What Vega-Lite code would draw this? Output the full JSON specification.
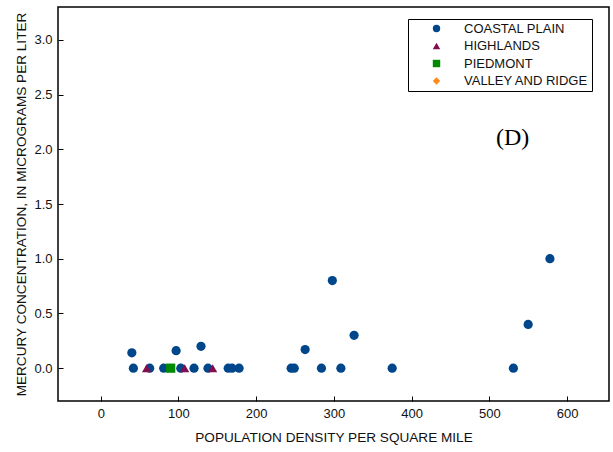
{
  "$schema": "https://vega.github.io/schema/vega-lite/v6.json",
  "width": 551,
  "height": 394,
  "autosize": {"type": "none"},
  "padding": {"left": 58, "top": 7, "right": 4, "bottom": 51},
  "background": "white",
  "config": {
    "view": {"stroke": "black", "strokeWidth": 1.5},
    "font": "Liberation Sans",
    "axis": {
      "domain": false,
      "grid": false,
      "tickColor": "black",
      "tickSize": 5,
      "offset": -5,
      "labelFont": "Liberation Sans",
      "labelFontSize": 13,
      "labelColor": "#111111",
      "titleFont": "Liberation Sans",
      "titleFontSize": 13.6,
      "titleFontWeight": "normal",
      "titleColor": "#111111"
    }
  },
  "datasets": {
    "pts": [
      {"region": "COASTAL PLAIN", "density": 40, "mercury": 0.14},
      {"region": "COASTAL PLAIN", "density": 42, "mercury": 0},
      {"region": "COASTAL PLAIN", "density": 63, "mercury": 0},
      {"region": "COASTAL PLAIN", "density": 81, "mercury": 0},
      {"region": "COASTAL PLAIN", "density": 97, "mercury": 0.16},
      {"region": "COASTAL PLAIN", "density": 103, "mercury": 0},
      {"region": "COASTAL PLAIN", "density": 120, "mercury": 0},
      {"region": "COASTAL PLAIN", "density": 129, "mercury": 0.2},
      {"region": "COASTAL PLAIN", "density": 138, "mercury": 0},
      {"region": "COASTAL PLAIN", "density": 164, "mercury": 0},
      {"region": "COASTAL PLAIN", "density": 169, "mercury": 0},
      {"region": "COASTAL PLAIN", "density": 178, "mercury": 0},
      {"region": "COASTAL PLAIN", "density": 245, "mercury": 0},
      {"region": "COASTAL PLAIN", "density": 249, "mercury": 0},
      {"region": "COASTAL PLAIN", "density": 263, "mercury": 0.17},
      {"region": "COASTAL PLAIN", "density": 284, "mercury": 0},
      {"region": "COASTAL PLAIN", "density": 298, "mercury": 0.8},
      {"region": "COASTAL PLAIN", "density": 309, "mercury": 0},
      {"region": "COASTAL PLAIN", "density": 326, "mercury": 0.3},
      {"region": "COASTAL PLAIN", "density": 375, "mercury": 0},
      {"region": "COASTAL PLAIN", "density": 531, "mercury": 0},
      {"region": "COASTAL PLAIN", "density": 550, "mercury": 0.4},
      {"region": "COASTAL PLAIN", "density": 578, "mercury": 1.0},
      {"region": "HIGHLANDS", "density": 59, "mercury": 0},
      {"region": "HIGHLANDS", "density": 108, "mercury": 0},
      {"region": "HIGHLANDS", "density": 144, "mercury": 0},
      {"region": "PIEDMONT", "density": 90, "mercury": 0}
    ],
    "note": [{"label": "(D)", "density": 530, "mercury": 2.1}]
  },
  "layer": [
    {
      "data": {"name": "pts"},
      "mark": {"type": "point", "filled": true, "opacity": 1, "size": 85},
      "encoding": {
        "x": {
          "field": "density",
          "type": "quantitative",
          "scale": {"domain": [-55, 654], "nice": false, "zero": false},
          "axis": {"values": [0, 100, 200, 300, 400, 500, 600], "title": "POPULATION DENSITY PER SQUARE MILE", "labelPadding": 6, "titlePadding": 10}
        },
        "y": {
          "field": "mercury",
          "type": "quantitative",
          "scale": {"domain": [-0.3, 3.3], "nice": false, "zero": false},
          "axis": {"values": [0, 0.5, 1, 1.5, 2, 2.5, 3], "format": ".1f", "title": "MERCURY CONCENTRATION, IN MICROGRAMS PER LITER", "labelPadding": 6, "titlePadding": 5}
        },
        "color": {
          "field": "region",
          "type": "nominal",
          "scale": {
            "domain": ["COASTAL PLAIN", "HIGHLANDS", "PIEDMONT", "VALLEY AND RIDGE"],
            "range": ["#00468B", "#800F4F", "#008A00", "#FF8C1A"]
          },
          "legend": {
            "title": null,
            "orient": "none",
            "legendX": 350,
            "legendY": 12,
            "strokeColor": "black",
            "fillColor": "white",
            "padding": 3,
            "symbolOffset": 19,
            "labelOffset": 21,
            "rowPadding": 3.5,
            "labelFontSize": 13,
            "labelFont": "Liberation Sans",
            "labelColor": "#111111",
            "symbolSize": 55
          }
        },
        "shape": {
          "field": "region",
          "type": "nominal",
          "scale": {
            "domain": ["COASTAL PLAIN", "HIGHLANDS", "PIEDMONT", "VALLEY AND RIDGE"],
            "range": ["circle", "triangle-up", "square", "diamond"]
          },
          "legend": null
        }
      }
    },
    {
      "data": {"name": "note"},
      "mark": {"type": "text", "font": "Liberation Serif", "fontSize": 24, "color": "black", "align": "center", "baseline": "middle"},
      "encoding": {
        "x": {"field": "density", "type": "quantitative"},
        "y": {"field": "mercury", "type": "quantitative"},
        "text": {"field": "label"}
      }
    }
  ]
}
